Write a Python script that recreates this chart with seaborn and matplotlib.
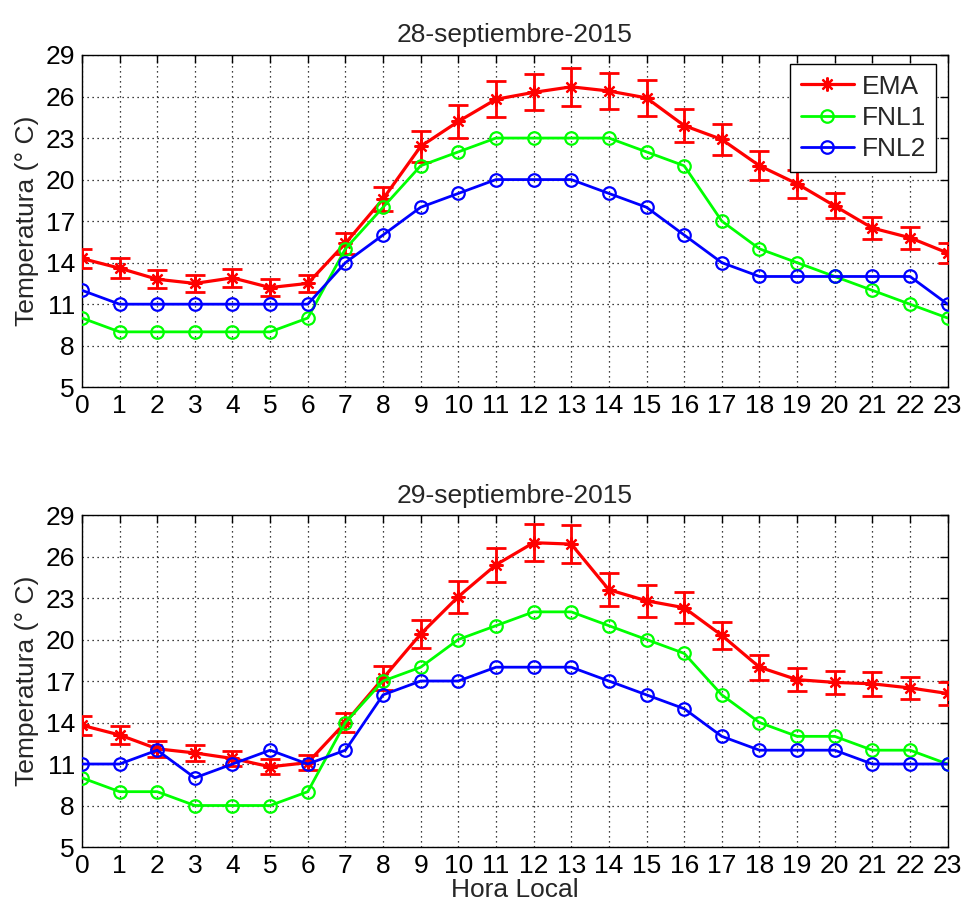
import matplotlib
matplotlib.use('Agg')
import matplotlib.pyplot as plt
import seaborn as sns
import pandas as pd

sns.set_style('white')
plt.rcParams['font.family'] = ['Liberation Sans', 'DejaVu Sans']

hours = list(range(24))

# 28-septiembre-2015
ema_28 = [14.3, 13.6, 12.8, 12.5, 12.9, 12.2, 12.5, 15.4, 18.6, 22.4, 24.2, 25.8,
          26.3, 26.7, 26.4, 25.9, 23.9, 22.9, 21.0, 19.7, 18.1, 16.5, 15.8, 14.7]
err_28 = [0.7, 0.7, 0.65, 0.6, 0.65, 0.6, 0.6, 0.75, 0.9, 1.1, 1.2, 1.3,
          1.3, 1.35, 1.3, 1.3, 1.2, 1.15, 1.05, 1.0, 0.9, 0.8, 0.8, 0.75]
fnl1_28 = [10, 9, 9, 9, 9, 9, 10, 15, 18, 21, 22, 23, 23, 23, 23, 22, 21, 17, 15, 14, 13, 12, 11, 10]
fnl2_28 = [12, 11, 11, 11, 11, 11, 11, 14, 16, 18, 19, 20, 20, 20, 19, 18, 16, 14, 13, 13, 13, 13, 13, 11]

# 29-septiembre-2015
ema_29 = [13.8, 13.1, 12.1, 11.8, 11.4, 10.8, 11.1, 14.0, 17.2, 20.4, 23.1, 25.4,
          27.0, 26.9, 23.6, 22.8, 22.3, 20.3, 18.0, 17.1, 16.9, 16.8, 16.5, 16.1]
err_29 = [0.7, 0.65, 0.6, 0.6, 0.55, 0.55, 0.55, 0.7, 0.85, 1.0, 1.15, 1.25,
          1.35, 1.35, 1.2, 1.15, 1.1, 1.0, 0.9, 0.85, 0.85, 0.85, 0.8, 0.8]
fnl1_29 = [10, 9, 9, 8, 8, 8, 9, 14, 17, 18, 20, 21, 22, 22, 21, 20, 19, 16, 14, 13, 13, 12, 12, 11]
fnl2_29 = [11, 11, 12, 10, 11, 12, 11, 12, 16, 17, 17, 18, 18, 18, 17, 16, 15, 13, 12, 12, 12, 11, 11, 11]

titles = ['28-septiembre-2015', '29-septiembre-2015']
yticks = [5, 8, 11, 14, 17, 20, 23, 26, 29]
ylabel = 'Temperatura (° C)'
xlabel = 'Hora Local'

RED = '#ff0000'
GREEN = '#00ff00'
BLUE = '#0000ff'
FS = 19

fig = plt.figure(figsize=(9.64, 9.09), dpi=100)
ax1 = fig.add_axes([0.085, 0.574, 0.898, 0.3655])
ax2 = fig.add_axes([0.085, 0.0682, 0.898, 0.3652])

panels = [(ax1, ema_28, err_28, fnl1_28, fnl2_28, titles[0]),
          (ax2, ema_29, err_29, fnl1_29, fnl2_29, titles[1])]

for i, (ax, ema, err, f1, f2, title) in enumerate(panels):
    df = pd.DataFrame({'hora': hours, 'EMA': ema, 'FNL1': f1, 'FNL2': f2})
    ax.errorbar(df['hora'], df['EMA'], yerr=err, fmt='none', ecolor=RED,
                elinewidth=2, capsize=7, capthick=2, zorder=3)
    sns.lineplot(data=df, x='hora', y='EMA', ax=ax, color=RED, lw=2.3,
                 marker=(8, 2, 0), markersize=10, markeredgecolor=RED,
                 markeredgewidth=1.6, label='EMA', zorder=3)
    sns.lineplot(data=df, x='hora', y='FNL1', ax=ax, color=GREEN, lw=2,
                 marker='o', markersize=9, markerfacecolor='none',
                 markeredgecolor=GREEN, markeredgewidth=1.6, label='FNL1', zorder=4)
    sns.lineplot(data=df, x='hora', y='FNL2', ax=ax, color=BLUE, lw=2,
                 marker='o', markersize=9, markerfacecolor='none',
                 markeredgecolor=BLUE, markeredgewidth=1.6, label='FNL2', zorder=5)

    ax.set_xlim(0, 23)
    ax.set_ylim(5, 29)
    ax.set_xticks(hours)
    ax.set_yticks(yticks)
    ax.grid(True, linestyle=(0, (1, 3)), color='black', linewidth=0.9)
    ax.tick_params(direction='in', length=6, width=1, top=True, right=True,
                   labelsize=FS, pad=5, colors='black')
    for s in ax.spines.values():
        s.set_color('black')
        s.set_linewidth(1.0)
    ax.set_title(title, fontsize=FS, pad=9)
    ax.set_ylabel(ylabel, fontsize=FS, labelpad=5)
    if i == 1:
        ax.set_xlabel(xlabel, fontsize=FS, labelpad=0)
        ax.get_legend().remove()
    else:
        ax.set_xlabel('')
        leg = ax.legend(loc='upper right', bbox_to_anchor=(0.987, 0.973), fontsize=FS,
                        frameon=True, fancybox=False, edgecolor='black', framealpha=1,
                        borderpad=0.4, labelspacing=0.28, handlelength=2.0,
                        handletextpad=0.3, borderaxespad=0.0)
        leg.get_frame().set_linewidth(1.0)

fig.savefig('out.png', dpi=100, facecolor='white')
